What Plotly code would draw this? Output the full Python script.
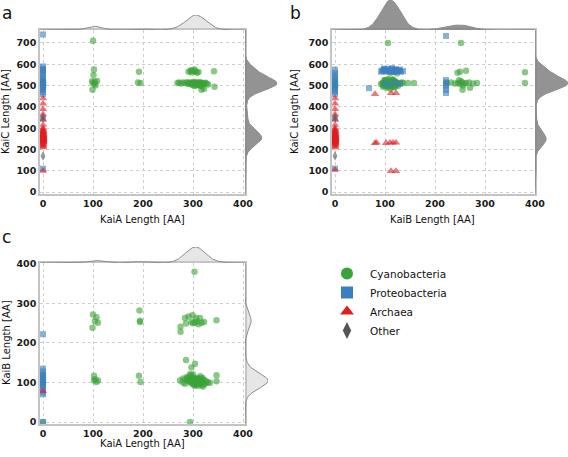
import numpy as np
import plotly.graph_objects as go

W, H = 568, 457

# ---------------- DATA ----------------
# Panel a: KaiA length (x) vs KaiC length (y); 0 = protein absent
a_cyano_x = [0, 0, 0, 0, 0, 0,
             100, 102, 101, 98, 104, 108, 100, 103, 105, 99,
             192, 190, 195,
             291, 295, 298, 302, 305, 308, 311, 296, 303, 342,
             269, 272, 276, 280, 284, 288, 290, 292, 294, 296, 298, 300, 301, 302, 304, 305,
             306, 307, 308, 310, 311, 312, 314, 315, 316, 318, 320, 322, 325, 327, 300, 305,
             310, 315, 296, 303, 308, 313, 318, 330, 343, 317, 322]
a_cyano_y = [490, 500, 505, 510, 515, 520,
             710, 575, 550, 520, 518, 522, 512, 508, 500, 480,
             565, 515, 512,
             565, 568, 562, 570, 566, 560, 564, 572, 575, 567,
             512, 515, 510, 514, 512, 516, 508, 512, 515, 510, 513, 511, 517, 509, 512, 514,
             510, 515, 508, 512, 506, 514, 510, 516, 509, 512, 507, 511, 513, 510, 503, 500,
             505, 502, 506, 498, 504, 500, 497, 505, 495, 480, 485]
a_proteo_y = [460, 470, 480, 490, 500, 510, 520, 530, 540, 550, 560, 570, 575, 580, 590,
              740, 110, 345]
a_arch_y = [210, 215, 220, 225, 228, 232, 235, 238, 240, 242, 245, 248, 250, 252, 255,
            258, 260, 262, 265, 268, 270, 275, 280, 285, 290, 295, 300, 240, 250, 260,
            245, 255, 236, 244, 247, 253, 257, 263, 267, 272, 278, 284,
            315, 340, 365, 390, 415, 440, 100]
a_other_y = [170, 352]

# Panel b: KaiB length (x) vs KaiC length (y)
b_cyano_x = [0, 0, 0, 0, 0,
             106, 95, 100, 104, 108, 112, 116, 120, 125, 130, 98, 102, 106, 110, 114, 118,
             122, 126, 100, 105, 110, 115, 120, 92, 96, 134, 136, 146, 158, 110, 118, 124,
             96, 98, 100, 101, 102, 103, 104, 105, 106, 107,
             108, 109, 110, 111, 112, 113, 114, 115, 116, 117,
             118, 119, 120, 121, 99, 103, 107, 111, 115, 119,
             123, 97, 101, 105, 109, 113, 117, 121, 125, 100,
             104, 108, 112, 116, 120, 102, 106, 110, 114, 118,
             252, 224, 232, 240, 246, 250, 254, 258, 262, 268, 276, 284, 248, 252, 256, 250,
             245, 262, 270, 255, 380, 380]
b_cyano_y = [490, 500, 505, 510, 520,
             700, 512, 515, 510, 518, 508, 514, 510, 506, 512, 500, 503, 498, 505, 500, 495,
             502, 498, 525, 528, 522, 530, 520, 508, 495, 515, 512, 512, 512, 560, 565, 558,
             505, 515, 510, 520, 500, 512, 508, 516, 495, 522,
             506, 514, 510, 502, 518, 498, 512, 508, 520, 505,
             514, 500, 510, 516, 526, 490, 530, 485, 525, 492,
             512, 508, 518, 502, 511, 497, 524, 506, 513, 515,
             509, 517, 503, 511, 507, 519, 501, 513, 509, 515,
             700, 512, 515, 510, 512, 508, 514, 510, 512, 515, 510, 512, 525, 520, 500, 565,
             560, 570, 490, 480, 563, 512]
b_proteo_x = [0, 0, 0, 0, 0, 0, 0, 0, 0, 0, 0, 0, 0, 0,
              92, 96, 100, 104, 108, 112, 116, 120, 124, 128, 132, 136, 98, 106, 114, 122,
              94, 98, 102, 106, 110, 114, 118, 122, 126, 130,
              100, 110, 120, 130, 68, 222, 222, 222, 222, 222, 222, 222]
b_proteo_y = [460, 470, 480, 490, 500, 510, 520, 530, 540, 550, 560, 575, 110, 345,
              565, 570, 575, 568, 572, 565, 570, 575, 566, 572, 565, 568, 580, 578, 582, 576,
              570, 576, 566, 574, 568, 578, 564, 572, 569, 575,
              510, 505, 515, 508, 488, 733, 526, 515, 505, 495, 480, 465]
b_arch_x = [0, 0, 0, 0, 0, 0, 0, 0, 0, 0, 0, 0, 0, 0, 0, 0, 0, 0, 0, 0,
            0, 0, 0, 0, 0, 0, 0, 0, 0, 0, 0, 0, 0, 0, 0, 0, 0, 0, 0, 0,
            0, 0, 0, 0, 0, 0, 0, 0, 0, 0,
            80, 112, 122, 80, 83, 102, 110, 116, 122, 112, 122]
b_arch_y = [210, 215, 220, 225, 228, 232, 235, 238, 240, 242, 245, 248, 250, 252, 255,
            258, 260, 262, 265, 268, 270, 275, 280, 285, 290, 295, 300, 240, 250, 260,
            245, 255, 236, 244, 247, 253, 257, 263, 267, 272, 278,
            315, 340, 365, 390, 415, 440, 105, 284, 230,
            460, 465, 465, 230, 232, 230, 232, 232, 232, 99, 99]
b_other_x = [0, 0]
b_other_y = [170, 352]

# Panel c: KaiA length (x) vs KaiB length (y)
c_cyano_x = [0, 0, 0, 0,
             100, 107, 104, 110, 99, 102, 102, 110, 107, 104,
             193, 194, 194, 192, 195,
             275, 275, 284, 291, 299, 306, 286, 297, 304, 311, 317, 322, 314, 347, 300, 308,
             303, 286, 297, 304, 347, 347, 334,
             274, 280, 285, 290, 293, 296, 299, 302, 304, 306, 308, 310, 312, 315, 318, 320,
             323, 326, 330, 296, 300, 305, 310, 315, 320, 300, 306, 312, 288, 294, 294,
             296, 298, 300, 302, 304, 306, 308, 310, 312, 314,
             316, 318, 299, 303, 307, 311, 315, 319, 301, 305,
             309, 313, 317, 297, 293, 289, 284, 280, 322, 326]
c_cyano_y = [100, 110, 120, 0,
             272, 265, 255, 251, 238, 117, 105, 105, 101, 108,
             282, 253, 256, 117, 101,
             228, 241, 263, 267, 270, 263, 249, 253, 251, 247, 251, 253, 263, 257, 250, 255,
             380, 157, 138, 147, 118, 103, 99,
             105, 100, 108, 112, 104, 98, 110, 102, 96, 106, 100, 112, 104, 98, 108, 102,
             96, 104, 100, 118, 120, 94, 92, 116, 90, 107, 103, 109, 114, 121, 0,
             104, 99, 107, 101, 110, 96, 103, 108, 100, 105,
             98, 106, 114, 92, 109, 102, 97, 111, 95, 104,
             100, 106, 93, 102, 108, 103, 97, 110, 106, 99]
c_proteo_y = [222, 70, 75, 82, 88, 92, 96, 100, 105, 110, 115, 120, 128, 135, 0]
c_arch_y = [78]

groups = ["Cyanobacteria", "Proteobacteria", "Archaea", "Other"]
colors = {"Cyanobacteria": "#3aa437", "Proteobacteria": "#3a7fc0",
          "Archaea": "#e31d1f", "Other": "#555555"}
symbols = {"Cyanobacteria": "circle", "Proteobacteria": "square",
           "Archaea": "triangle-up", "Other": "diamond-tall"}
msize = {"Cyanobacteria": 6.5, "Proteobacteria": 6, "Archaea": 7.5, "Other": 7}

panels = {
    "a": {"Cyanobacteria": (a_cyano_x, a_cyano_y),
          "Proteobacteria": ([0] * len(a_proteo_y), a_proteo_y),
          "Archaea": ([0] * len(a_arch_y), a_arch_y),
          "Other": ([0] * len(a_other_y), a_other_y)},
    "b": {"Cyanobacteria": (b_cyano_x, b_cyano_y), "Proteobacteria": (b_proteo_x, b_proteo_y),
          "Archaea": (b_arch_x, b_arch_y), "Other": (b_other_x, b_other_y)},
    "c": {"Cyanobacteria": (c_cyano_x, c_cyano_y),
          "Proteobacteria": ([0] * len(c_proteo_y), c_proteo_y),
          "Archaea": ([0] * len(c_arch_y), c_arch_y),
          "Other": ([], [])},
}

# ---------------- LAYOUT GEOMETRY (pixels) ----------------
def xd(p0, p1):
    return [p0 / W, p1 / W]

def yd(top, bottom):
    return [1 - bottom / H, 1 - top / H]

LIGHT = "rgba(200,200,200,0.45)"
DARK = "rgba(135,135,135,0.9)"
geo = {
    "a": dict(x=(40, 245), y=(30, 194), xr=[-6, 404], yr=[-9, 761], yt=list(range(0, 701, 100)),
              top=15, right=32, topfill=LIGHT, rightfill=DARK, bwx=15, bwy=28),
    "b": dict(x=(332, 535), y=(30, 194), xr=[-6, 400], yr=[-9, 761], yt=list(range(0, 701, 100)),
              top=30, right=33, topfill=DARK, rightfill=DARK, bwx=16, bwy=28),
    "c": dict(x=(40, 245), y=(263, 424), xr=[-6, 404], yr=[-5, 402], yt=list(range(0, 401, 100)),
              top=16, right=23, topfill=LIGHT, rightfill=LIGHT, bwx=15, bwy=17),
}


def kde(values, grid, bw):
    v = np.array([t for t in values if t > 0], dtype=float)
    d = np.exp(-0.5 * ((grid[:, None] - v[None, :]) / bw) ** 2).sum(axis=1)
    return d / d.max()


fig = go.Figure()
layout = {}
tickfont = dict(family="DejaVu Sans", size=9.5, color="#1a1a1a", weight="bold")

for i, key in enumerate(["a", "b", "c"]):
    g = geo[key]
    n = i + 1
    xa = "xaxis" if n == 1 else f"xaxis{n}"
    ya = "yaxis" if n == 1 else f"yaxis{n}"
    xref = "x" if n == 1 else f"x{n}"
    yref = "y" if n == 1 else f"y{n}"
    layout[xa] = dict(domain=xd(*g["x"]), range=g["xr"], anchor=yref, automargin=False,
                      tickvals=[0, 100, 200, 300, 400], showgrid=True, gridcolor="#cfcfcf",
                      griddash="dot", gridwidth=1, zeroline=False, showline=True, mirror=True,
                      linecolor="#c4c4c4", linewidth=1.5, ticks="", tickfont=tickfont)
    layout[ya] = dict(domain=yd(*g["y"]), range=g["yr"], anchor=xref, automargin=False,
                      tickvals=g["yt"], showgrid=True, gridcolor="#cfcfcf",
                      griddash="dot", gridwidth=1, zeroline=False, showline=True, mirror=True,
                      linecolor="#c4c4c4", linewidth=1.5, ticks="", tickfont=tickfont)

    for grp in groups:
        xs, ys = panels[key][grp]
        if len(xs) == 0:
            continue
        fig.add_trace(go.Scatter(
            x=xs, y=ys, mode="markers", xaxis=xref, yaxis=yref, showlegend=False,
            marker=dict(symbol=symbols[grp], color=colors[grp], size=msize[grp], opacity=0.6,
                        line=dict(width=0)),
            name=grp))

    allx, ally = [], []
    for grp in groups:
        xs, ys = panels[key][grp]
        allx += list(xs)
        ally += list(ys)

    nt = 3 + 2 * i + 1
    nr = nt + 1
    gx = np.linspace(g["xr"][0], g["xr"][1], 400)
    dx = kde(allx, gx, g["bwx"])
    layout[f"xaxis{nt}"] = dict(domain=xd(*g["x"]), range=g["xr"], anchor=f"y{nt}", visible=False)
    layout[f"yaxis{nt}"] = dict(domain=yd(g["y"][0] - g["top"], g["y"][0]), range=[0, 1.0],
                                anchor=f"x{nt}", visible=False)
    fig.add_trace(go.Scatter(x=gx, y=dx, mode="lines", fill="tozeroy", fillcolor=g["topfill"],
                             line=dict(color="#8c8c8c", width=1), xaxis=f"x{nt}", yaxis=f"y{nt}",
                             showlegend=False, hoverinfo="skip"))
    gy = np.linspace(g["yr"][0], g["yr"][1], 400)
    dy = kde(ally, gy, g["bwy"])
    layout[f"xaxis{nr}"] = dict(domain=xd(g["x"][1], g["x"][1] + g["right"]), range=[0, 1.0],
                                anchor=f"y{nr}", visible=False)
    layout[f"yaxis{nr}"] = dict(domain=yd(*g["y"]), range=g["yr"], anchor=f"x{nr}", visible=False)
    fig.add_trace(go.Scatter(x=dy, y=gy, mode="lines", fill="tozerox", fillcolor=g["rightfill"],
                             line=dict(color="#8c8c8c", width=1), xaxis=f"x{nr}", yaxis=f"y{nr}",
                             showlegend=False, hoverinfo="skip"))

for grp in groups:
    fig.add_trace(go.Scatter(x=[None], y=[None], mode="markers", name=grp, xaxis="x3", yaxis="y3",
                             marker=dict(symbol=symbols[grp], color=colors[grp], size=10,
                                         line=dict(width=0))))

tfont = dict(family="DejaVu Sans", size=10, color="#111")
lfont = dict(family="DejaVu Sans", size=17, color="#111")

def ann(text, x, y, font, angle=0, xanchor="center", yanchor="middle"):
    return dict(text=text, x=x / W, y=1 - y / H, xref="paper", yref="paper", xanchor=xanchor,
                yanchor=yanchor, showarrow=False, font=font, textangle=angle)

annotations = [
    ann("a", 0, 13, lfont, xanchor="left"),
    ann("b", 288, 13, lfont, xanchor="left"),
    ann("c", 0, 237, lfont, xanchor="left"),
    ann("KaiA Length [AA]", 142, 219, tfont),
    ann("KaiB Length [AA]", 432, 219, tfont),
    ann("KaiA Length [AA]", 142, 443, tfont),
    ann("KaiC Length [AA]", 6, 112, tfont, angle=-90),
    ann("KaiC Length [AA]", 295, 112, tfont, angle=-90),
    ann("KaiB Length [AA]", 6, 343, tfont, angle=-90),
]

fig.update_layout(
    width=W, height=H, margin=dict(l=0, r=0, t=0, b=0),
    paper_bgcolor="white", plot_bgcolor="white",
    annotations=annotations,
    legend=dict(x=324 / W, y=1 - 259 / H, xanchor="left", yanchor="top",
                font=dict(family="DejaVu Sans", size=10.5, color="#111"),
                bgcolor="rgba(0,0,0,0)", itemsizing="constant", tracegroupgap=0, itemwidth=36),
    **layout,
)

fig.write_html("out.html", config={"displayModeBar": False},
               post_script="document.body.style.margin='0';")
